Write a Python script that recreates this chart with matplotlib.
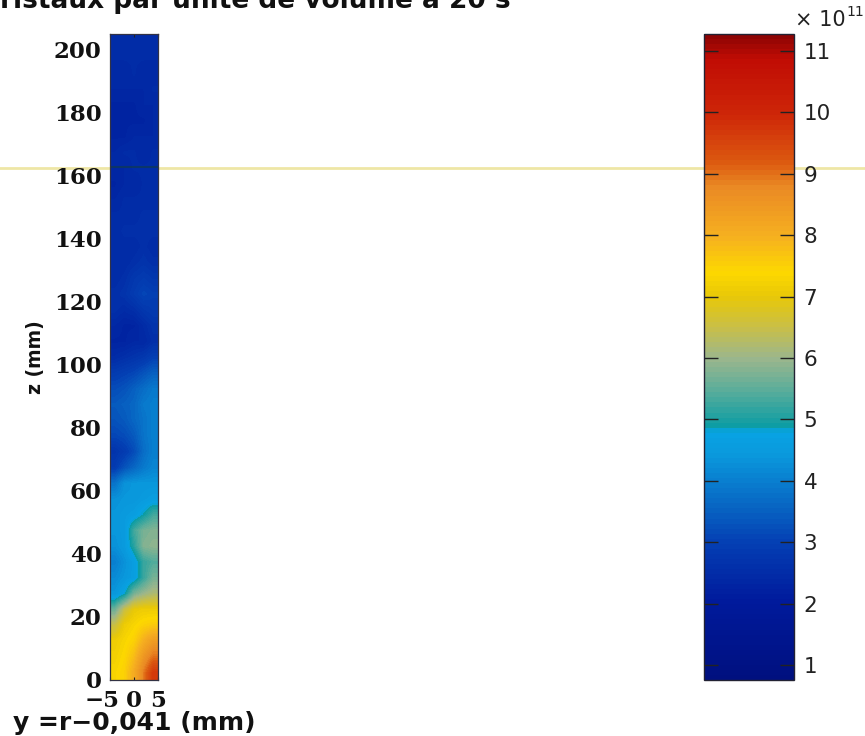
import numpy as np
import matplotlib
matplotlib.use("Agg")
import matplotlib.pyplot as plt
from matplotlib.colors import LinearSegmentedColormap, Normalize
from matplotlib.lines import Line2D
from matplotlib.cm import ScalarMappable
from matplotlib.transforms import ScaledTranslation

title = "ristaux par unité de volume à 20 s"
ylabel = "z (mm)"
xlabel = "y =r\u22120,041 (mm)"
z_ticks = [0, 20, 40, 60, 80, 100, 120, 140, 160, 180, 200]
y_ticks = [-5, 0, 5]
cbar_ticks = [1, 2, 3, 4, 5, 6, 7, 8, 9, 10, 11]
vmin, vmax = 0.756, 11.277

# density (x 10^11), rows from z = 2.5 mm upward in 5 mm steps
density = [
    [7.3, 7.5, 8.1, 8.9, 9.7],
    [7.2, 7.4, 7.8, 8.5, 9.0],
    [7.1, 7.3, 7.5, 8.0, 8.4],
    [6.5, 7.1, 7.3, 7.5, 7.6],
    [5.6, 6.5, 7.0, 7.1, 7.1],
    [4.4, 4.8, 5.7, 6.0, 6.2],
    [4.2, 4.4, 4.6, 5.2, 5.7],
    [4.0, 4.3, 4.6, 5.2, 5.4],
    [4.3, 4.5, 5.1, 5.8, 5.9],
    [4.4, 4.5, 5.3, 5.7, 5.8],
    [4.4, 4.5, 4.6, 4.9, 5.3],
    [4.3, 4.4, 4.4, 4.5, 4.6],
    [3.8, 4.3, 4.4, 4.4, 4.4],
    [2.9, 3.3, 3.6, 3.9, 4.1],
    [2.7, 2.9, 3.2, 3.7, 4.0],
    [3.1, 3.2, 3.4, 3.8, 4.0],
    [3.3, 3.4, 3.6, 3.8, 4.0],
    [3.4, 3.5, 3.6, 3.9, 4.0],
    [3.2, 3.3, 3.5, 3.7, 3.9],
    [2.9, 3.0, 3.1, 3.3, 3.5],
    [2.5, 2.6, 2.7, 2.8, 3.0],
    [2.3, 2.3, 2.4, 2.4, 2.6],
    [2.4, 2.3, 2.3, 2.5, 2.7],
    [2.6, 2.5, 2.6, 2.8, 2.9],
    [2.6, 2.7, 2.9, 3.1, 3.0],
    [2.5, 2.6, 2.8, 2.9, 2.8],
    [2.5, 2.5, 2.6, 2.7, 2.6],
    [2.5, 2.5, 2.5, 2.6, 2.5],
    [2.5, 2.6, 2.6, 2.6, 2.6],
    [2.5, 2.5, 2.5, 2.6, 2.6],
    [2.4, 2.5, 2.5, 2.5, 2.5],
    [2.3, 2.4, 2.4, 2.5, 2.5],
    [2.4, 2.4, 2.5, 2.5, 2.5],
    [2.4, 2.5, 2.5, 2.4, 2.5],
    [2.3, 2.3, 2.4, 2.4, 2.4],
    [2.3, 2.3, 2.3, 2.3, 2.4],
    [2.3, 2.3, 2.3, 2.4, 2.4],
    [2.4, 2.4, 2.4, 2.4, 2.5],
    [2.4, 2.4, 2.5, 2.4, 2.4],
    [2.5, 2.5, 2.5, 2.5, 2.5],
    [2.5, 2.5, 2.5, 2.5, 2.5],
]

stop_values = [0.756, 2.0, 3.0, 3.6, 4.4, 4.8, 4.87, 5.5, 6.0, 6.5, 7.0, 7.4, 8.0, 8.8, 9.2, 10.0, 10.9, 11.277]
stop_colors = ["#00107f", "#001a9c", "#0440b4", "#0868c4", "#0a98dc", "#08a4e4", "#0a9ca4", "#5fae9a",
               "#9cb68c", "#c8bf48", "#e8c808", "#fdd800", "#f6b020", "#ea8a24", "#dc5a10",
               "#ce2608", "#c00c04", "#8e0404"]

W, H = 865, 736
fig = plt.figure(figsize=(W / 100, H / 100), dpi=100, facecolor="white")

def box(x0, y0, x1, y1):
    return [x0 / W, 1 - y1 / H, (x1 - x0) / W, (y1 - y0) / H]

pos = [(v - vmin) / (vmax - vmin) for v in stop_values]
cmap = LinearSegmentedColormap.from_list("scan", list(zip(pos, stop_colors)), N=128)
norm = Normalize(vmin, vmax)

serif = "DejaVu Serif"
ax = fig.add_axes(box(110, 34, 158, 680))
ax.imshow(np.array(density), origin="lower", extent=(-5, 5, 0, 205), aspect="auto",
          cmap=cmap, norm=norm, interpolation="bilinear", interpolation_stage="data")
ax.set_xlim(-5, 5)
ax.set_ylim(0, 205)
ax.set_xticks(y_ticks)
ax.set_yticks(z_ticks)
ax.tick_params(axis="y", length=0, pad=6)
ax.tick_params(axis="x", direction="in", length=2, width=0.8, color="#222222", pad=7, top=True)
for lab in ax.get_yticklabels() + ax.get_xticklabels():
    lab.set(family=serif, fontweight="bold", fontsize=16.5, color="#111111")
first = ax.get_xticklabels()[0]
first.set_transform(first.get_transform() + ScaledTranslation(-8 / 100, 0, fig.dpi_scale_trans))
for s in ax.spines.values():
    s.set_linewidth(0.9)
    s.set_color("#333344")
ax.axhline(162.7, color="#103a50", lw=1.5, alpha=0.7)

cax = fig.add_axes(box(704, 34, 794, 680))
cb = fig.colorbar(ScalarMappable(norm=norm, cmap=cmap), cax=cax, ticks=cbar_ticks)
cb.ax.tick_params(direction="in", length=10, width=1.0, color="#222222", left=True, right=True,
                  labelsize=15.5, pad=7, labelcolor="#222222")
cb.outline.set_linewidth(1.0)
cb.outline.set_edgecolor("#222233")
for lab in cb.ax.get_yticklabels():
    lab.set_family("DejaVu Sans")

fig.text(0 / W, 1 - 8 / H, title, fontsize=19, fontweight="bold", family="DejaVu Sans",
         ha="left", va="baseline", color="#111111")
fig.text(36 / W, 1 - 357 / H, ylabel, fontsize=13.5, fontweight="bold", family="DejaVu Sans",
         rotation=90, ha="center", va="center", color="#111111")
fig.text(13 / W, 1 - 730 / H, xlabel, fontsize=18, fontweight="bold", family="DejaVu Sans",
         ha="left", va="baseline", color="#111111")
fig.text(795 / W, 1 - 26 / H, "\u00d7 10", fontsize=15, family="DejaVu Sans", ha="left",
         va="baseline", color="#222222")
fig.text(846 / W, 1 - 16 / H, "11", fontsize=10, family="DejaVu Sans", ha="left", va="baseline",
         color="#222222")

# pale horizontal scanner streak across the sheet, behind both axes
fig.add_artist(Line2D([0, 1], [1 - 167.5 / H] * 2, transform=fig.transFigure, color="#e8dc80",
                      lw=2.0, alpha=0.7, zorder=-1))

fig.savefig("out.png", dpi=100, facecolor="white")
